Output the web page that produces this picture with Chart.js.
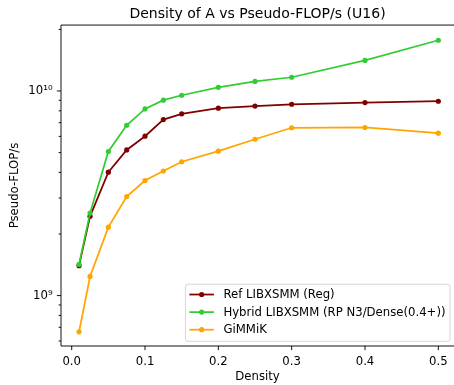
<!DOCTYPE html>
<html>
<head>
<meta charset="utf-8">
<script src="https://cdn.jsdelivr.net/npm/chart.js@4/dist/chart.umd.min.js"></script>
<style>
  html, body { margin: 0; padding: 0; background: #fff; overflow: hidden; }
  #wrap { width: 454px; height: 385px; }
</style>
</head>
<body>
<div id="wrap"><canvas id="densityChart" width="454" height="385"></canvas></div>
<script>
// ====== DATA
const density = [0.01, 0.025, 0.05, 0.075, 0.1, 0.125, 0.15, 0.2, 0.25, 0.3, 0.4, 0.5];
const refLibxsmm = [1.40e9, 2.44e9, 4.01e9, 5.15e9, 6.01e9, 7.25e9, 7.73e9, 8.24e9, 8.44e9, 8.61e9, 8.78e9, 8.91e9];
const hybridLibxsmm = [1.42e9, 2.53e9, 5.06e9, 6.80e9, 8.17e9, 9.02e9, 9.53e9, 1.042e10, 1.114e10, 1.167e10, 1.41e10, 1.77e10];
const gimmik = [6.65e8, 1.24e9, 2.16e9, 3.05e9, 3.65e9, 4.06e9, 4.51e9, 5.08e9, 5.81e9, 6.61e9, 6.63e9, 6.22e9];

const seriesLabels = ['Ref LIBXSMM (Reg)', 'Hybrid LIBXSMM (RP N3/Dense(0.4+))', 'GiMMiK'];
const seriesColors = ['#800000', '#32cd32', '#ffa500'];

const xTicks = [0, 0.1, 0.2, 0.3, 0.4, 0.5];
// x axis is cut at the canvas edge, so the visible max stops just short of the full margin
const xRange = [-0.0146, 0.5214];
const yRange = [5.67e8, 2.1e10];

// ====== STYLE
const FONT = '"DejaVu Sans", sans-serif';
const PT = 1.17;              // px per point
const TICK_MAJOR = 3.5 * PT;
const TICK_MINOR = 2 * PT;

const SUP = { '0': '\u2070', '1': '\u00b9', '2': '\u00b2', '3': '\u00b3', '4': '\u2074',
  '5': '\u2075', '6': '\u2076', '7': '\u2077', '8': '\u2078', '9': '\u2079', '-': '\u207b' };
const sup = n => String(n).split('').map(c => SUP[c]).join('');

// decades + 2..9 minors inside the range
function logTicks(min, max) {
  const out = [];
  for (let e = Math.floor(Math.log10(min)); e <= Math.ceil(Math.log10(max)); e++) {
    for (let m = 1; m <= 9; m++) {
      const v = m * Math.pow(10, e);
      if (v >= min && v <= max) out.push({ value: v, major: m === 1 });
    }
  }
  return out;
}

// ====== spines (top/left/bottom) + tick marks (major/minor lengths differ)
const frameTicks = {
  id: 'frameTicks',
  afterDraw(chart) {
    const { ctx, chartArea: a, scales } = chart;
    ctx.save();
    ctx.strokeStyle = '#000';
    ctx.lineWidth = 0.8 * PT;
    ctx.beginPath();
    ctx.moveTo(a.right + 2, a.top);
    ctx.lineTo(a.left, a.top);
    ctx.lineTo(a.left, a.bottom);
    ctx.lineTo(a.right + 2, a.bottom);
    ctx.stroke();
    ctx.beginPath();
    scales.x.ticks.forEach(t => {
      const px = scales.x.getPixelForValue(t.value);
      ctx.moveTo(px, a.bottom);
      ctx.lineTo(px, a.bottom + TICK_MAJOR);
    });
    ctx.stroke();
    ctx.beginPath();
    scales.y.ticks.forEach(t => {
      const py = scales.y.getPixelForValue(t.value);
      ctx.moveTo(a.left, py);
      ctx.lineTo(a.left - (t.major ? TICK_MAJOR : TICK_MINOR), py);
    });
    ctx.stroke();
    ctx.restore();
  }
};

// ====== legend box, lower right inside the axes
const boxLegend = {
  id: 'boxLegend',
  afterDraw(chart) {
    const { ctx, chartArea: a } = chart;
    const fs = 10 * PT;
    const sets = chart.data.datasets;
    ctx.save();
    ctx.font = `${fs}px ${FONT}`;
    const textW = Math.max(...sets.map(d => ctx.measureText(d.label).width));
    const padL = 4, handle = 24.5, gap = 9.5, padR = 4.5;
    const rowH = 17.6, padT = 10.3, padB = 11.6;
    const w = padL + handle + gap + textW + padR;
    const h = padT + rowH * (sets.length - 1) + padB;
    const right = 450;   // axes edge (just off-canvas) minus border pad
    const bottom = a.bottom - 0.4 * fs;
    const left = right - w, top = bottom - h;

    ctx.beginPath();
    ctx.roundRect(left, top, w, h, 2.5);
    ctx.fillStyle = 'rgba(255,255,255,0.8)';
    ctx.fill();
    ctx.strokeStyle = 'rgba(204,204,204,0.8)';
    ctx.lineWidth = 1;
    ctx.stroke();

    sets.forEach((d, i) => {
      const cy = top + padT + i * rowH;
      const hx = left + padL;
      ctx.strokeStyle = d.borderColor;
      ctx.lineWidth = d.borderWidth;
      ctx.beginPath();
      ctx.moveTo(hx, cy);
      ctx.lineTo(hx + handle, cy);
      ctx.stroke();
      ctx.fillStyle = d.pointBackgroundColor;
      ctx.beginPath();
      ctx.arc(hx + handle / 2, cy, d.pointRadius, 0, Math.PI * 2);
      ctx.fill();
      ctx.fillStyle = '#000';
      ctx.textBaseline = 'middle';
      ctx.textAlign = 'left';
      ctx.fillText(d.label, hx + handle + gap, cy + 0.5);
    });
    ctx.restore();
  }
};

function makeSet(label, values, color, order) {
  return {
    label,
    data: density.map((x, i) => ({ x, y: values[i] })),
    borderColor: color,
    backgroundColor: color,
    pointBackgroundColor: color,
    pointBorderColor: color,
    borderWidth: 1.5 * PT,
    pointRadius: 2.6,
    pointBorderWidth: 0,
    tension: 0,
    order
  };
}

// ====== CHART
const ctx = document.getElementById('densityChart').getContext('2d');
new Chart(ctx, {
  type: 'line',
  data: {
    datasets: [
      makeSet(seriesLabels[0], refLibxsmm, seriesColors[0], 2),
      makeSet(seriesLabels[1], hybridLibxsmm, seriesColors[1], 1),
      makeSet(seriesLabels[2], gimmik, seriesColors[2], 0)
    ]
  },
  options: {
    responsive: false,
    animation: false,
    devicePixelRatio: 1,
    layout: { autoPadding: false, padding: 0 },
    plugins: {
      legend: { display: false },
      tooltip: { enabled: false },
      title: {
        display: true,
        fullSize: false,
        text: 'Density of A vs Pseudo-FLOP/s (U16)',
        color: '#000',
        font: { family: FONT, size: 12 * PT, weight: 'normal', lineHeight: 1.2 },
        padding: { top: 6.4, bottom: 1.8 }
      }
    },
    scales: {
      x: {
        type: 'linear',
        min: xRange[0],
        max: xRange[1],
        afterBuildTicks: s => { s.ticks = xTicks.map(v => ({ value: v })); },
        afterFit: s => { s.height = 39; s.paddingLeft = 0; s.paddingRight = 0; },
        grid: { display: false, drawTicks: false },
        border: { display: false },
        ticks: {
          color: '#000',
          padding: 8.6,
          autoSkip: false,
          maxRotation: 0,
          font: { family: FONT, size: 10 * PT },
          callback: v => v.toFixed(1)
        },
        title: {
          display: true,
          text: 'Density',
          color: '#000',
          font: { family: FONT, size: 10 * PT },
          padding: { top: 0, bottom: 1.5 }
        }
      },
      y: {
        type: 'logarithmic',
        min: yRange[0],
        max: yRange[1],
        afterBuildTicks: s => { s.ticks = logTicks(yRange[0], yRange[1]); },
        afterFit: s => { s.width = 61; s.paddingTop = 0; s.paddingBottom = 0; },
        grid: { display: false, drawTicks: false },
        border: { display: false },
        ticks: {
          color: '#000',
          padding: 8.4,
          autoSkip: false,
          font: { family: FONT, size: 10 * PT },
          callback: (v, i, ticks) => ticks[i].major ? '10' + sup(Math.round(Math.log10(v))) : ''
        },
        title: {
          display: true,
          text: 'Pseudo-FLOP/s',
          color: '#000',
          font: { family: FONT, size: 10 * PT },
          padding: { top: 8, bottom: 0 }
        }
      }
    }
  },
  plugins: [frameTicks, boxLegend]
});
</script>
</body>
</html>
